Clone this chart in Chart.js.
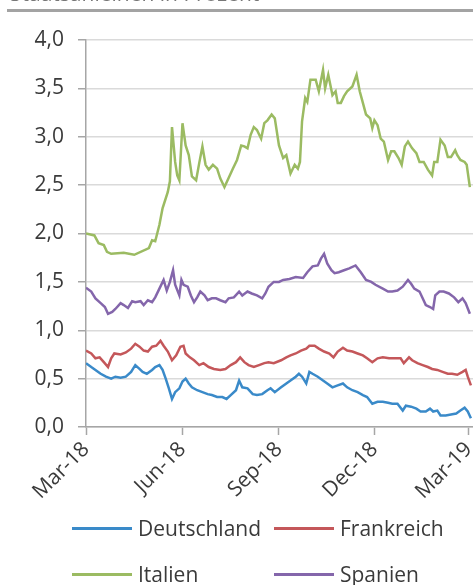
<!DOCTYPE html>
<html>
<head>
<meta charset="utf-8">
<script src="https://cdn.jsdelivr.net/npm/chart.js@4/dist/chart.umd.min.js"></script>
<style>
  html, body { margin: 0; padding: 0; background: #fff; }
  #wrap { position: relative; width: 473px; height: 585px; overflow: hidden; font-family: "Open Sans", sans-serif; }
  #titel { position: absolute; left: 10px; top: -17.5px; font-size: 21px; line-height: 21px; color: #777; white-space: nowrap; }
  #linie { position: absolute; left: 7px; right: 0; top: 9px; height: 3px; background: #a3a3a3; }
  canvas { position: absolute; left: 0; top: 0; }
  .leg { position: absolute; font-size: 21px; line-height: 24px; color: #3a3a3a; white-space: nowrap; }
  .leg i { position: absolute; left: 0; top: 11px; width: 60px; height: 3px; }
  .leg span { position: absolute; left: 66px; top: 0; }
</style>
</head>
<body>
<div id="wrap">
  <canvas id="c" width="473" height="585"></canvas>
  <div id="titel">Staatsanleihen in Prozent</div>
  <div id="linie"></div>
  <div id="legende"></div>
</div>
<script>
// Rendite 10-jähriger Staatsanleihen, Tage seit 1. März 2018
const tickTage = [0, 92, 184, 275, 365];
const tickLabels = ['Mar-18', 'Jun-18', 'Sep-18', 'Dec-18', 'Mar-19'];

const tageDeutschland = [0,5,9,14,19,24,28,33,38,43,47,51,54,58,63,66,70,73,76,79,82,85,89,92,95,98,101,106,111,116,120,125,130,134,138,143,146,149,154,159,163,168,173,176,180,
  186,191,195,200,203,206,210,213,216,221,226,230,235,240,245,249,254,259,264,268,273,278,283,288,292,297,302,305,310,315,319,324,328,331,335,338,343,348,353,357,361,364,367];
const deutschland = [0.66,0.62,0.59,0.55,0.52,0.50,0.52,0.51,0.52,0.57,0.64,0.60,0.57,0.55,0.59,0.62,0.64,0.59,0.50,0.40,0.29,0.36,0.40,0.47,0.50,0.45,0.41,0.38,0.36,0.34,0.33,0.31,0.31,0.29,0.33,0.38,0.48,0.41,0.40,0.34,0.33,0.34,0.38,0.40,0.36,
  0.41,0.45,0.48,0.52,0.55,0.52,0.45,0.57,0.55,0.52,0.48,0.45,0.41,0.43,0.45,0.41,0.38,0.36,0.33,0.31,0.24,0.26,0.26,0.25,0.24,0.24,0.17,0.22,0.21,0.19,0.16,0.16,0.19,0.16,0.17,0.12,0.12,0.13,0.14,0.17,0.20,0.16,0.09];

const tageFrankreich = [0,5,9,13,17,21,24,27,33,38,43,47,51,55,59,63,67,71,74,78,82,86,90,93,95,99,103,108,112,117,122,128,133,138,143,147,151,155,160,165,170,174,179,
  186,191,195,200,205,210,213,218,222,227,232,236,240,245,249,254,259,264,268,273,278,283,289,295,300,303,308,311,316,321,326,330,335,340,345,349,354,359,362,364,367];
const frankreich = [0.79,0.76,0.71,0.72,0.67,0.62,0.71,0.76,0.75,0.77,0.81,0.86,0.83,0.79,0.78,0.83,0.84,0.89,0.84,0.78,0.69,0.74,0.83,0.84,0.76,0.72,0.69,0.64,0.66,0.62,0.60,0.59,0.60,0.64,0.67,0.72,0.67,0.64,0.62,0.64,0.66,0.67,0.66,
  0.69,0.72,0.74,0.76,0.79,0.81,0.84,0.84,0.81,0.78,0.76,0.72,0.78,0.82,0.79,0.78,0.76,0.74,0.71,0.67,0.71,0.72,0.71,0.71,0.71,0.66,0.72,0.69,0.66,0.64,0.62,0.60,0.59,0.57,0.55,0.55,0.54,0.57,0.59,0.52,0.43];

const tageItalien = [0,8,12,17,20,24,36,46,60,63,66,70,73,78,80,82,85,87,89,92,95,98,101,105,108,111,114,117,121,125,128,132,135,140,144,148,151,154,157,160,163,167,170,173,177,180,
  184,188,191,195,199,202,204,206,209,211,214,219,222,226,228,231,235,238,240,243,246,249,254,258,261,264,267,271,273,275,278,281,284,288,291,294,298,301,304,307,311,315,318,322,326,330,332,335,338,342,345,348,352,354,357,361,363,366];
const italien = [2.00,1.98,1.90,1.88,1.81,1.79,1.80,1.78,1.85,1.93,1.92,2.09,2.26,2.43,2.54,3.10,2.74,2.60,2.55,3.14,2.91,2.81,2.59,2.55,2.73,2.90,2.71,2.66,2.71,2.67,2.57,2.48,2.55,2.67,2.76,2.91,2.90,2.88,3.02,3.10,3.07,2.98,3.14,3.17,3.23,3.19,
  2.91,2.78,2.81,2.62,2.71,2.67,2.74,3.16,3.40,3.36,3.59,3.59,3.47,3.69,3.50,3.64,3.43,3.47,3.35,3.35,3.42,3.47,3.52,3.64,3.47,3.35,3.23,3.19,3.09,3.17,3.12,2.98,2.95,2.76,2.85,2.85,2.78,2.71,2.90,2.95,2.88,2.83,2.74,2.74,2.66,2.60,2.74,2.74,2.97,2.91,2.79,2.79,2.86,2.81,2.76,2.74,2.71,2.48];

const tageSpanien = [0,5,9,14,18,21,25,28,33,36,40,44,47,52,55,59,63,66,70,74,77,80,83,85,89,91,93,97,100,103,106,109,113,116,120,124,128,133,136,141,146,149,154,158,163,168,171,174,179,
  184,188,194,200,207,211,216,221,224,227,230,234,237,241,246,251,257,262,267,272,276,283,288,292,297,302,307,310,313,318,321,324,328,331,333,337,341,346,351,355,359,362,366];
const spanien = [1.44,1.40,1.33,1.28,1.24,1.17,1.19,1.22,1.28,1.26,1.23,1.30,1.29,1.30,1.26,1.31,1.29,1.34,1.43,1.52,1.41,1.50,1.62,1.47,1.36,1.52,1.47,1.45,1.36,1.29,1.34,1.40,1.36,1.31,1.33,1.33,1.31,1.29,1.33,1.34,1.40,1.36,1.40,1.38,1.36,1.33,1.38,1.45,1.50,
  1.50,1.52,1.53,1.55,1.54,1.60,1.66,1.67,1.74,1.79,1.69,1.62,1.59,1.60,1.62,1.64,1.67,1.60,1.52,1.50,1.47,1.43,1.40,1.40,1.41,1.45,1.52,1.48,1.43,1.40,1.33,1.26,1.24,1.22,1.36,1.40,1.40,1.38,1.34,1.29,1.33,1.28,1.17];

const serien = [
  { name: 'Deutschland', tage: tageDeutschland, werte: deutschland, farbe: '#3a8ac9' },
  { name: 'Frankreich',  tage: tageFrankreich,  werte: frankreich,  farbe: '#c4575a' },
  { name: 'Italien',     tage: tageItalien,     werte: italien,     farbe: '#9bbb62' },
  { name: 'Spanien',     tage: tageSpanien,     werte: spanien,     farbe: '#8466ab' }
];

const schrift = { family: '"Open Sans", sans-serif', size: 21 };
const achsenGrau = '#a6a6a6';

const chart = new Chart(document.getElementById('c'), {
  type: 'line',
  data: {
    datasets: serien.map(s => ({
      label: s.name,
      data: s.tage.map((t, i) => ({ x: t, y: s.werte[i] })),
      borderColor: s.farbe,
      backgroundColor: s.farbe,
      borderWidth: 2.5,
      pointRadius: 0,
      tension: 0,
      fill: false
    }))
  },
  options: {
    responsive: false,
    animation: false,
    devicePixelRatio: 1,
    layout: { padding: { top: 40, left: 0, right: 0, bottom: 83 } },
    plugins: { legend: { display: false }, tooltip: { enabled: false } },
    scales: {
      x: {
        type: 'linear',
        min: 0,
        max: 369,
        afterBuildTicks: s => { s.ticks = tickTage.map(v => ({ value: v })); },
        afterFit: s => { s.height = 75; s.paddingLeft = 0; s.paddingRight = 0; },
        ticks: {
          autoSkip: false,
          minRotation: 45,
          maxRotation: 45,
          padding: 2,
          color: '#3a3a3a',
          font: schrift,
          callback: v => tickLabels[tickTage.indexOf(v)]
        },
        grid: { drawOnChartArea: false, drawTicks: true, tickLength: 8, tickColor: achsenGrau, tickWidth: 1.5 },
        border: { color: achsenGrau, width: 1.5 }
      },
      y: {
        min: 0,
        max: 4,
        afterFit: s => { s.width = 86; s.paddingTop = 0; s.paddingBottom = 0; },
        ticks: {
          stepSize: 0.5,
          padding: 14,
          color: '#3a3a3a',
          font: schrift,
          callback: v => v.toFixed(1).replace('.', ',')
        },
        grid: { color: '#dadada', lineWidth: 1.5, tickLength: 8, tickColor: achsenGrau },
        border: { color: achsenGrau, width: 1.5 }
      }
    }
  }
});

// Legende in zwei Spalten unter dem Diagramm
const legPos = [[72, 516], [274, 516], [72, 562], [274, 562]];
const legende = document.getElementById('legende');
serien.forEach((s, i) => {
  const el = document.createElement('div');
  el.className = 'leg';
  el.style.left = legPos[i][0] + 'px';
  el.style.top = legPos[i][1] + 'px';
  el.innerHTML = '<i style="background:' + s.farbe + '"></i><span>' + s.name + '</span>';
  legende.appendChild(el);
});
</script>
</body>
</html>
